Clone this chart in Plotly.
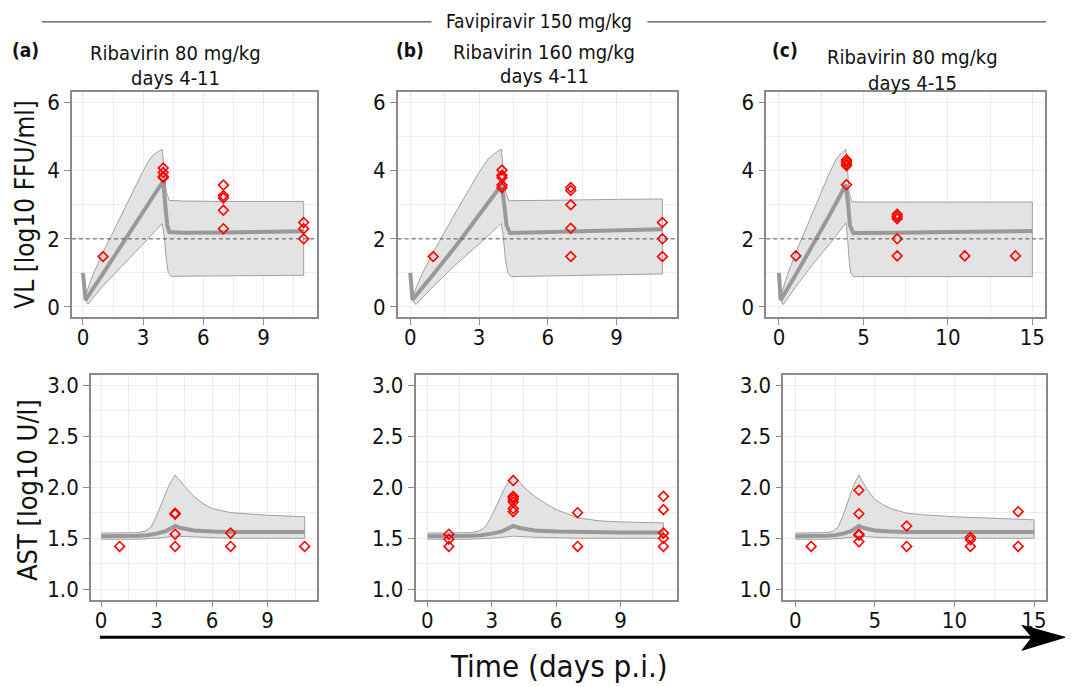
import plotly.graph_objects as go

W, H = 1072, 687
FONT = "DejaVu Sans Condensed, DejaVu Sans"

# ---------------- DATA ----------------
# VL panels (log10 FFU/ml)
vl_a_med_t = [0, 0.13, 1, 2, 3, 3.6, 4.0, 4.1, 4.2, 4.3, 5, 7, 9, 11]
vl_a_med_y = [1.0, 0.21, 0.98, 1.87, 2.76, 3.3, 3.7, 3.0, 2.4, 2.2, 2.18, 2.19, 2.2, 2.22]
vl_a_up_t = [0.1, 0.5, 1, 2, 3, 3.4, 3.7, 3.95, 4.05, 4.15, 4.3, 5, 7, 9, 11]
vl_a_up_y = [0.3, 0.95, 1.6, 2.8, 4.0, 4.4, 4.55, 4.63, 4.1, 3.4, 3.13, 3.11, 3.1, 3.1, 3.1]
vl_a_lo_t = [0.1, 0.25, 1, 2, 3, 3.95, 4.05, 4.15, 4.25, 4.4, 5, 7, 9, 11]
vl_a_lo_y = [0.2, 0.08, 0.62, 1.23, 1.85, 2.45, 2.1, 1.4, 1.0, 0.9, 0.9, 0.91, 0.92, 0.93]
vl_a_obs_t = [1, 4, 4, 4, 4, 7, 7, 7, 7, 7, 11, 11, 11]
vl_a_obs_y = [1.48, 4.08, 3.95, 3.83, 3.8, 3.58, 3.27, 3.2, 2.84, 2.3, 2.48, 2.3, 2.0]

vl_b_med_t = [0, 0.1, 1, 2, 3, 3.6, 3.99, 4.1, 4.2, 4.35, 5, 7, 9, 11]
vl_b_med_y = [1.0, 0.21, 0.95, 1.8, 2.7, 3.22, 3.59, 3.0, 2.4, 2.17, 2.18, 2.22, 2.25, 2.28]
vl_b_up_t = [0.1, 0.5, 1, 2, 3, 3.4, 3.7, 3.97, 4.05, 4.15, 4.3, 5, 7, 9, 11]
vl_b_up_y = [0.3, 0.95, 1.6, 2.8, 3.95, 4.35, 4.52, 4.63, 4.1, 3.4, 3.12, 3.12, 3.14, 3.16, 3.17]
vl_b_lo_t = [0.1, 0.25, 1, 2, 3, 3.97, 4.05, 4.15, 4.25, 4.4, 5, 7, 9, 11]
vl_b_lo_y = [0.2, 0.07, 0.6, 1.25, 1.85, 2.45, 2.1, 1.4, 1.0, 0.89, 0.9, 0.92, 0.95, 0.97]
vl_b_obs_t = [1, 4, 4, 4, 4, 4, 7, 7, 7, 7, 7, 11, 11, 11]
vl_b_obs_y = [1.48, 4.02, 3.87, 3.8, 3.58, 3.5, 3.51, 3.42, 3.0, 2.31, 1.48, 2.48, 2.0, 1.48]

vl_c_med_t = [0, 0.1, 1, 2, 3, 3.6, 3.95, 4.1, 4.2, 4.4, 5, 7, 10, 15]
vl_c_med_y = [1.0, 0.2, 0.95, 1.8, 2.7, 3.25, 3.6, 3.0, 2.4, 2.17, 2.17, 2.18, 2.2, 2.23]
vl_c_up_t = [0.1, 0.5, 1, 2, 3, 3.4, 3.7, 3.97, 4.05, 4.15, 4.3, 5, 7, 10, 15]
vl_c_up_y = [0.3, 0.95, 1.6, 2.8, 3.95, 4.35, 4.52, 4.63, 4.1, 3.4, 3.09, 3.08, 3.08, 3.08, 3.08]
vl_c_lo_t = [0.1, 0.25, 1, 2, 3, 3.97, 4.05, 4.15, 4.25, 4.4, 5, 7, 10, 15]
vl_c_lo_y = [0.2, 0.07, 0.6, 1.25, 1.85, 2.47, 2.1, 1.4, 1.0, 0.89, 0.89, 0.89, 0.89, 0.89]
vl_c_obs_t = [1, 4, 4, 4, 4, 4, 7, 7, 7, 7, 7, 11, 14]
vl_c_obs_y = [1.5, 4.32, 4.26, 4.19, 4.15, 3.59, 2.72, 2.66, 2.59, 2.0, 1.5, 1.5, 1.5]

# AST panels (log10 U/l)
ast_a_med_t = [0, 1, 2, 2.5, 3, 3.5, 3.8, 4.0, 4.3, 4.7, 5, 6, 7, 9, 11]
ast_a_med_y = [1.52, 1.52, 1.525, 1.53, 1.545, 1.57, 1.6, 1.62, 1.6, 1.585, 1.575, 1.565, 1.56, 1.56, 1.56]
ast_a_up_t = [0, 1, 2, 2.4, 2.7, 3, 3.3, 3.6, 3.8, 4.0, 4.5, 5, 5.5, 6, 7, 8, 9, 11]
ast_a_up_y = [1.55, 1.55, 1.555, 1.57, 1.61, 1.72, 1.86, 1.99, 2.06, 2.12, 2.01, 1.91, 1.84, 1.79, 1.75, 1.735, 1.725, 1.71]
ast_a_lo_t = [0, 2, 3, 4, 5, 7, 11]
ast_a_lo_y = [1.49, 1.49, 1.5, 1.52, 1.51, 1.5, 1.5]
ast_a_obs_t = [1, 4, 4, 4, 4, 7, 7, 11]
ast_a_obs_y = [1.42, 1.745, 1.735, 1.54, 1.42, 1.55, 1.42, 1.42]

ast_b_med_t = [0, 1, 2, 2.5, 3, 3.5, 3.8, 4.0, 4.3, 4.7, 5, 6, 7, 9, 11]
ast_b_med_y = [1.52, 1.52, 1.525, 1.53, 1.545, 1.57, 1.6, 1.62, 1.6, 1.585, 1.575, 1.565, 1.56, 1.555, 1.555]
ast_b_up_t = [0, 1, 2, 2.4, 2.7, 3, 3.3, 3.6, 3.8, 4.0, 4.5, 5, 5.5, 6, 7, 8, 9, 11]
ast_b_up_y = [1.55, 1.55, 1.555, 1.57, 1.61, 1.72, 1.86, 1.99, 2.06, 2.12, 2.0, 1.91, 1.84, 1.78, 1.70, 1.67, 1.66, 1.65]
ast_b_lo_t = [0, 2, 3, 4, 5, 7, 11]
ast_b_lo_y = [1.49, 1.49, 1.5, 1.52, 1.51, 1.5, 1.5]
ast_b_obs_t = [1, 1, 1, 4, 4, 4, 4, 4, 4, 4, 7, 7, 11, 11, 11, 11, 11]
ast_b_obs_y = [1.54, 1.49, 1.42, 2.065, 1.91, 1.9, 1.88, 1.855, 1.79, 1.76, 1.75, 1.42, 1.91, 1.78, 1.55, 1.5, 1.42]

ast_c_med_t = [0, 1, 2, 2.5, 3, 3.5, 3.8, 4.0, 4.3, 4.7, 5, 6, 7, 10, 15]
ast_c_med_y = [1.52, 1.52, 1.525, 1.53, 1.545, 1.57, 1.6, 1.62, 1.6, 1.585, 1.575, 1.565, 1.56, 1.56, 1.56]
ast_c_up_t = [0, 1, 2, 2.4, 2.7, 3, 3.3, 3.6, 3.8, 4.0, 4.5, 5, 5.5, 6, 7, 8, 10, 12, 15]
ast_c_up_y = [1.55, 1.55, 1.555, 1.57, 1.61, 1.72, 1.86, 1.99, 2.06, 2.12, 1.98, 1.88, 1.83, 1.79, 1.745, 1.73, 1.71, 1.70, 1.68]
ast_c_lo_t = [0, 2, 3, 4, 5, 7, 15]
ast_c_lo_y = [1.49, 1.49, 1.5, 1.52, 1.51, 1.5, 1.5]
ast_c_obs_t = [1, 4, 4, 4, 4, 4, 7, 7, 11, 11, 11, 14, 14]
ast_c_obs_y = [1.42, 1.97, 1.74, 1.54, 1.53, 1.465, 1.62, 1.42, 1.51, 1.485, 1.42, 1.76, 1.42]

vl_threshold = 2
vl_ticks = [0, 2, 4, 6]
ast_ticks = [1.0, 1.5, 2.0, 2.5, 3.0]
ast_ticklabels = ["1.0", "1.5", "2.0", "2.5", "3.0"]
x_ticks_11 = [0, 3, 6, 9]
x_ticks_15 = [0, 5, 10, 15]

main_title = "Favipiravir 150 mg/kg"
panel_letters = ["(a)", "(b)", "(c)"]
panel_line1 = ["Ribavirin 80 mg/kg", "Ribavirin 160 mg/kg", "Ribavirin 80 mg/kg"]
panel_line2 = ["days 4-11", "days 4-11", "days 4-15"]

# ---------------- FIGURE ----------------
fig = go.Figure()

def px(x):
    return x / W

def py(y):
    return 1 - y / H

BAND_FILL = "#e3e3e3"
BAND_LINE = "#a0a0a0"
MED = "#999999"

def add_panel(n, med_t, med_y, up_t, up_y, lo_t, lo_y, obs_t, obs_y):
    xa = "x" if n == 1 else f"x{n}"
    ya = "y" if n == 1 else f"y{n}"
    fig.add_trace(go.Scatter(x=up_t + lo_t[::-1], y=up_y + lo_y[::-1], fill="toself",
                             fillcolor=BAND_FILL, line=dict(color=BAND_LINE, width=1),
                             mode="lines", xaxis=xa, yaxis=ya, hoverinfo="skip"))
    fig.add_trace(go.Scatter(x=med_t, y=med_y, mode="lines",
                             line=dict(color=MED, width=4), xaxis=xa, yaxis=ya))
    fig.add_trace(go.Scatter(x=obs_t, y=obs_y, mode="markers",
                             marker=dict(symbol="diamond-open", color="red", size=7.5,
                                         line=dict(width=1.6, color="red")),
                             xaxis=xa, yaxis=ya))

add_panel(1, vl_a_med_t, vl_a_med_y, vl_a_up_t, vl_a_up_y, vl_a_lo_t, vl_a_lo_y, vl_a_obs_t, vl_a_obs_y)
add_panel(2, vl_b_med_t, vl_b_med_y, vl_b_up_t, vl_b_up_y, vl_b_lo_t, vl_b_lo_y, vl_b_obs_t, vl_b_obs_y)
add_panel(3, vl_c_med_t, vl_c_med_y, vl_c_up_t, vl_c_up_y, vl_c_lo_t, vl_c_lo_y, vl_c_obs_t, vl_c_obs_y)
add_panel(4, ast_a_med_t, ast_a_med_y, ast_a_up_t, ast_a_up_y, ast_a_lo_t, ast_a_lo_y, ast_a_obs_t, ast_a_obs_y)
add_panel(5, ast_b_med_t, ast_b_med_y, ast_b_up_t, ast_b_up_y, ast_b_lo_t, ast_b_lo_y, ast_b_obs_t, ast_b_obs_y)
add_panel(6, ast_c_med_t, ast_c_med_y, ast_c_up_t, ast_c_up_y, ast_c_lo_t, ast_c_lo_y, ast_c_obs_t, ast_c_obs_y)

FRAME = "#8a8a8a"
GRID = "#ededed"
TICKFONT = dict(family=FONT, size=22, color="#111111")

def xaxis_cfg(dom, rng, ticks, minor, anchor):
    return dict(domain=dom, range=rng, tickvals=ticks, ticktext=[str(t) for t in ticks],
                showline=True, mirror=True, linecolor=FRAME, linewidth=1.5,
                ticks="outside", ticklen=6, tickwidth=1.2, tickcolor=FRAME,
                showgrid=True, gridcolor=GRID, gridwidth=1, zeroline=False,
                minor=dict(dtick=minor, tick0=0, showgrid=True, gridcolor=GRID, gridwidth=1),
                tickfont=TICKFONT, anchor=anchor, ticklabelstandoff=-6)

def yaxis_cfg(dom, rng, ticks, texts, minor, anchor):
    return dict(domain=dom, range=rng, tickvals=ticks, ticktext=texts,
                showline=True, mirror=True, linecolor=FRAME, linewidth=1.5,
                ticks="outside", ticklen=6, tickwidth=1.2, tickcolor=FRAME,
                showgrid=True, gridcolor=GRID, gridwidth=1, zeroline=False,
                minor=dict(dtick=minor, tick0=0, showgrid=True, gridcolor=GRID, gridwidth=1),
                tickfont=TICKFONT, anchor=anchor)

top_dom = [py(317), py(91)]
bot_dom = [py(601), py(375)]
cols_top = [[px(72), px(317)], [px(398), px(678)], [px(767), px(1046)]]
cols_bot = [[px(91), px(317)], [px(416), px(678)], [px(784), px(1047)]]

r11 = [-0.55, 11.65]
r15 = [-0.75, 15.75]
layout_axes = {}
layout_axes["xaxis"] = xaxis_cfg(cols_top[0], r11, x_ticks_11, 1.5, "y")
layout_axes["xaxis2"] = xaxis_cfg(cols_top[1], r11, x_ticks_11, 1.5, "y2")
layout_axes["xaxis3"] = xaxis_cfg(cols_top[2], r15, x_ticks_15, 2.5, "y3")
layout_axes["xaxis4"] = xaxis_cfg(cols_bot[0], r11, x_ticks_11, 1.5, "y4")
layout_axes["xaxis5"] = xaxis_cfg(cols_bot[1], r11, x_ticks_11, 1.5, "y5")
layout_axes["xaxis6"] = xaxis_cfg(cols_bot[2], r15, x_ticks_15, 2.5, "y6")
vl_texts = [str(t) for t in vl_ticks]
layout_axes["yaxis"] = yaxis_cfg(top_dom, [-0.3, 6.3], vl_ticks, vl_texts, 1, "x")
layout_axes["yaxis2"] = yaxis_cfg(top_dom, [-0.3, 6.3], vl_ticks, vl_texts, 1, "x2")
layout_axes["yaxis3"] = yaxis_cfg(top_dom, [-0.3, 6.3], vl_ticks, vl_texts, 1, "x3")
layout_axes["yaxis4"] = yaxis_cfg(bot_dom, [0.9, 3.1], ast_ticks, ast_ticklabels, 0.25, "x4")
layout_axes["yaxis5"] = yaxis_cfg(bot_dom, [0.9, 3.1], ast_ticks, ast_ticklabels, 0.25, "x5")
layout_axes["yaxis6"] = yaxis_cfg(bot_dom, [0.9, 3.1], ast_ticks, ast_ticklabels, 0.25, "x6")

# threshold lines
shapes = []
for n in (1, 2, 3):
    xr = "x" if n == 1 else f"x{n}"
    yr = "y" if n == 1 else f"y{n}"
    shapes.append(dict(type="line", xref=f"{xr} domain", yref=yr, x0=0, x1=1,
                       y0=vl_threshold, y1=vl_threshold,
                       line=dict(color="#555555", width=1, dash="4px,3px")))

# header lines around main title
shapes.append(dict(type="line", xref="paper", yref="paper", x0=px(42), x1=px(432),
                   y0=py(20), y1=py(20), line=dict(color="#222222", width=1)))
shapes.append(dict(type="line", xref="paper", yref="paper", x0=px(648), x1=px(1047),
                   y0=py(20), y1=py(20), line=dict(color="#222222", width=1)))

# time arrow
shapes.append(dict(type="line", xref="paper", yref="paper", x0=px(100), x1=px(1035),
                   y0=py(639), y1=py(639), line=dict(color="black", width=3)))
path = (f"M {px(1023)},{py(627)} L {px(1066)},{py(639)} L {px(1023)},{py(652)} "
        f"L {px(1033)},{py(639)} Z")
shapes.append(dict(type="path", xref="paper", yref="paper", path=path,
                   fillcolor="black", line=dict(color="black", width=1)))

annotations = []
annotations.append(dict(text=main_title, x=px(540), y=py(19), xref="paper", yref="paper",
                        showarrow=False, font=dict(family=FONT, size=19, color="#111111"),
                        xanchor="center", yanchor="middle"))
letter_x = [26, 410, 786]
line1_x = [176, 545, 913]
line1_y = [51, 50, 55]
line2_y = [76, 74, 81]
for i in range(3):
    annotations.append(dict(text=f"<b>{panel_letters[i]}</b>", x=px(letter_x[i]), y=py(48),
                            xref="paper", yref="paper", showarrow=False,
                            font=dict(family=FONT, size=19, color="#111111"),
                            xanchor="center", yanchor="middle"))
    annotations.append(dict(text=panel_line1[i], x=px(line1_x[i]), y=py(line1_y[i]),
                            xref="paper", yref="paper", showarrow=False,
                            font=dict(family=FONT, size=20, color="#111111"),
                            xanchor="center", yanchor="middle"))
    annotations.append(dict(text=panel_line2[i], x=px(line1_x[i]), y=py(line2_y[i]),
                            xref="paper", yref="paper", showarrow=False,
                            font=dict(family=FONT, size=20, color="#111111"),
                            xanchor="center", yanchor="middle"))

annotations.append(dict(text="VL [log10 FFU/ml]", x=px(25), y=py(203), xref="paper", yref="paper",
                        showarrow=False, textangle=-90,
                        font=dict(family=FONT, size=26, color="#111111"),
                        xanchor="center", yanchor="middle"))
annotations.append(dict(text="AST [log10 U/l]", x=px(27), y=py(491), xref="paper", yref="paper",
                        showarrow=False, textangle=-90,
                        font=dict(family=FONT, size=27, color="#111111"),
                        xanchor="center", yanchor="middle"))
annotations.append(dict(text="Time (days p.i.)", x=px(560), y=py(668), xref="paper", yref="paper",
                        showarrow=False,
                        font=dict(family=FONT, size=31, color="#111111"),
                        xanchor="center", yanchor="middle"))

fig.update_layout(width=W, height=H, margin=dict(l=0, r=0, t=0, b=0),
                  paper_bgcolor="white", plot_bgcolor="white", showlegend=False,
                  font=dict(family=FONT), shapes=shapes, annotations=annotations,
                  **layout_axes)

fig.write_html("out.html", config={"displayModeBar": False},
               post_script="document.body.style.margin='0';document.body.style.overflow='hidden';")
